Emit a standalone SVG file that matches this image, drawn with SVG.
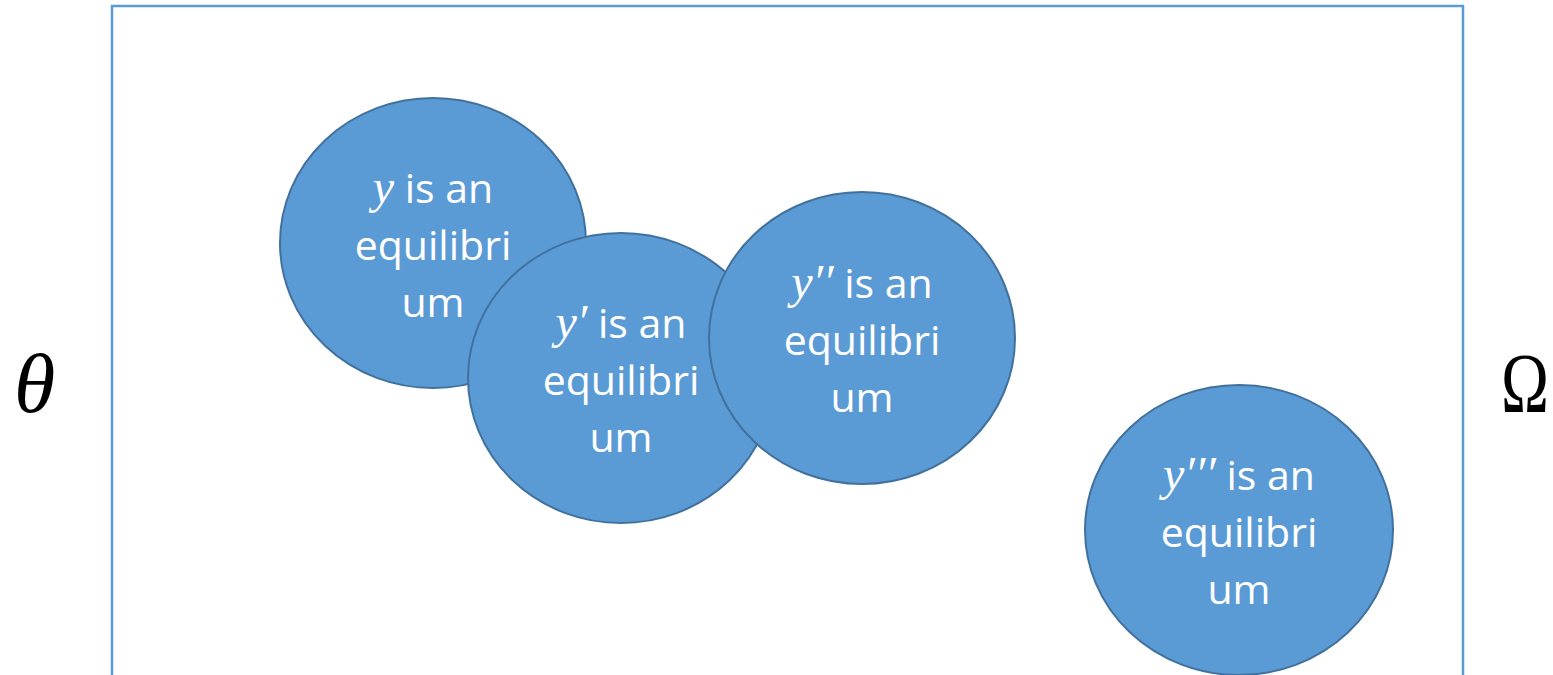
<svg xmlns="http://www.w3.org/2000/svg" width="1553" height="675" viewBox="0 0 1553 675">
<style>
.frame{fill:none;stroke:#5B9BD5;stroke-width:2.5}
.node ellipse{fill:#5B9BD5;stroke:#41719C;stroke-width:2}
.lbl{fill:#FFFFFF;font-family:"Open Sans","Liberation Sans",sans-serif;font-size:41px;text-anchor:middle}
.m{font-family:"Liberation Serif",serif;font-style:italic;font-size:48px}
.side{fill:#000;font-family:"Liberation Serif",serif;font-size:84px}
</style>
<rect class="frame" x="112" y="6" width="1351" height="700"/>
<text class="side" x="14" y="412" font-style="italic">θ</text>
<text class="side" x="1501" y="412" textLength="48" lengthAdjust="spacingAndGlyphs">Ω</text>
<g id="connectors"></g>
<g id="node-y" class="node">
<ellipse cx="433" cy="243" rx="153" ry="145"/>
<text class="lbl" x="433" y="203"><tspan class="m">y</tspan> is an</text>
<text class="lbl" x="433" y="260">equilibri</text>
<text class="lbl" x="433" y="317">um</text>
</g>
<g id="node-y1" class="node">
<ellipse cx="621" cy="378" rx="153" ry="145"/>
<text class="lbl" x="621" y="338"><tspan class="m">y′</tspan> is an</text>
<text class="lbl" x="621" y="395">equilibri</text>
<text class="lbl" x="621" y="452">um</text>
</g>
<g id="node-y2" class="node">
<ellipse cx="862" cy="338" rx="153" ry="146"/>
<text class="lbl" x="862" y="298"><tspan class="m">y′′</tspan> is an</text>
<text class="lbl" x="862" y="355">equilibri</text>
<text class="lbl" x="862" y="412">um</text>
</g>
<g id="node-y3" class="node">
<ellipse cx="1239" cy="530" rx="154" ry="145"/>
<text class="lbl" x="1239" y="490"><tspan class="m">y′′′</tspan> is an</text>
<text class="lbl" x="1239" y="547">equilibri</text>
<text class="lbl" x="1239" y="604">um</text>
</g>
</svg>
